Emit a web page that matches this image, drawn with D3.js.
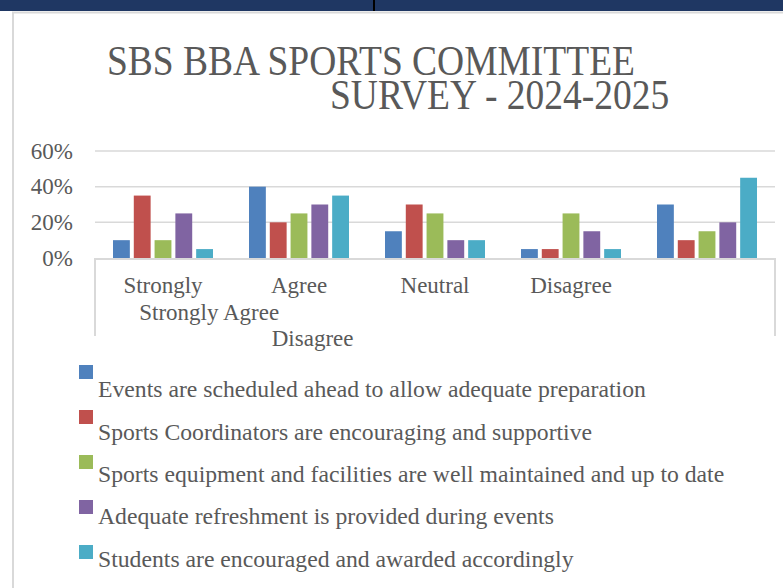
<!DOCTYPE html>
<html>
<head>
<meta charset="utf-8">
<script src="https://cdn.jsdelivr.net/npm/d3@7"></script>
<style>
  body { margin: 0; background: #fff; }
  svg text { font-family: "Liberation Serif", "Times New Roman", Times, "DejaVu Serif", serif; }
</style>
</head>
<body>
<div id="container"></div>
<script>
// DATA ###############################
const categories = ["Strongly Agree", "Agree", "Neutral", "Disagree", "Strongly Disagree"];
const seriesNames = [
  "Events are scheduled ahead to allow adequate preparation",
  "Sports Coordinators are encouraging and supportive",
  "Sports equipment and facilities are well maintained and up to date",
  "Adequate refreshment is provided during events",
  "Students are encouraged and awarded accordingly"
];
const eventsAhead   = [0.10, 0.40, 0.15, 0.05, 0.30];
const coordinators  = [0.35, 0.20, 0.30, 0.05, 0.10];
const equipment     = [0.10, 0.25, 0.25, 0.25, 0.15];
const refreshment   = [0.25, 0.30, 0.10, 0.15, 0.20];
const awarded       = [0.05, 0.35, 0.10, 0.05, 0.45];
const yTicks = [0, 0.2, 0.4, 0.6];
// category labels as they come out wrapped in the original
const tickLabels = ["Strongly", "Agree", "Neutral", "Disagree", ""];
const titleLines = ["SBS BBA SPORTS COMMITTEE", "SURVEY - 2024-2025"];

// CONSTANTS ###############################
const width = 783, height = 588;
const plot = { left: 95, right: 775, top: 151, bottom: 258 };
const colors = ["#4F81BD", "#C0504D", "#9BBB59", "#8064A2", "#4BACC6"];
const textColor = "#595959";
const gridColor = "#d9d9d9";
const serif = "'Liberation Serif', 'Times New Roman', Times, 'DejaVu Serif', serif";

const allSeries = [eventsAhead, coordinators, equipment, refreshment, awarded];
const rows = [];
categories.forEach((c, i) => {
  allSeries.forEach((s, j) => rows.push({ cat: c, series: seriesNames[j], idx: j, value: s[i] }));
});

// SCALES ----------------------------------
const xScale = d3.scaleBand()
  .domain(categories)
  .range([plot.left, plot.right]);

const groupWidth = 100;
const xInner = d3.scaleBand()
  .domain(seriesNames)
  .range([0, groupWidth])
  .paddingInner(0.19);

const yScale = d3.scaleLinear()
  .domain([0, 0.6])
  .range([plot.bottom, plot.top]);

// DRAW ###############################
const svg = d3.select("#container")
  .append("svg")
  .attr("width", width)
  .attr("height", height)
  .attr("font-family", serif)
  .style("display", "block")
  .style("background-color", "white");

// top banner
svg.append("rect").attr("x", 0).attr("y", 0).attr("width", width).attr("height", 11).attr("fill", "#1f3763");
svg.append("rect").attr("x", 373).attr("y", 0).attr("width", 2).attr("height", 11).attr("fill", "#000");

// chart frame
svg.append("path")
  .attr("d", `M13,${height} V12.5 H${width}`)
  .attr("fill", "none").attr("stroke", gridColor).attr("stroke-width", 2);

// title (the original is a little stretched vertically)
svg.append("text")
  .attr("transform", "translate(107,75) scale(1,1.13)")
  .attr("font-size", 37.5).attr("fill", textColor)
  .text(titleLines[0]);
svg.append("text")
  .attr("transform", "translate(330,109) scale(1,1.13)")
  .attr("font-size", 37.5).attr("fill", textColor)
  .text(titleLines[1]);

// gridlines
svg.selectAll("line.grid")
  .data(yTicks.filter(d => d > 0))
  .join("line")
  .attr("class", "grid")
  .attr("x1", plot.left).attr("x2", plot.right)
  .attr("y1", d => yScale(d)).attr("y2", d => yScale(d))
  .attr("stroke", gridColor).attr("stroke-width", 1.5);

// y labels
svg.selectAll("text.ylab")
  .data(yTicks)
  .join("text")
  .attr("class", "ylab")
  .attr("x", 73)
  .attr("y", d => yScale(d))
  .attr("dy", "0.33em")
  .attr("text-anchor", "end")
  .attr("font-size", 23)
  .attr("fill", textColor)
  .text(d => d3.format(".0%")(d));

// category axis box
svg.append("path")
  .attr("d", `M${plot.left},336 V${plot.bottom + 1} H${plot.right} V336`)
  .attr("fill", "none").attr("stroke", gridColor).attr("stroke-width", 2);

// bars
svg.selectAll("rect.bar")
  .data(rows)
  .join("rect")
  .attr("class", "bar")
  .attr("x", d => xScale(d.cat) + (xScale.bandwidth() - groupWidth) / 2 + xInner(d.series))
  .attr("width", xInner.bandwidth())
  .attr("y", d => yScale(d.value))
  .attr("height", d => yScale(0) - yScale(d.value))
  .attr("fill", d => colors[d.idx]);

// x labels
const bw = xScale.bandwidth();
svg.selectAll("text.xlab")
  .data(categories)
  .join("text")
  .attr("class", "xlab")
  .attr("x", d => xScale(d) + bw / 2)
  .attr("y", 293)
  .attr("text-anchor", "middle")
  .attr("font-size", 23)
  .attr("fill", textColor)
  .text((d, i) => tickLabels[i]);

// stray wrapped pieces of the first and last labels
svg.append("text")
  .attr("x", xScale(categories[0]) + bw * 0.84).attr("y", 320)
  .attr("text-anchor", "middle").attr("font-size", 23).attr("fill", textColor)
  .text(categories[0]);
svg.append("text")
  .attr("x", xScale(categories[1]) + bw * 0.6).attr("y", 346)
  .attr("text-anchor", "middle").attr("font-size", 23).attr("fill", textColor)
  .text("Disagree");

// legend
const legendSquares = [365, 410, 455, 500, 545];
const legendBaselines = [397, 440, 482, 524, 567];
const legend = svg.selectAll("g.legend")
  .data(seriesNames)
  .join("g")
  .attr("class", "legend");
legend.append("rect")
  .attr("x", 79).attr("y", (d, i) => legendSquares[i])
  .attr("width", 14).attr("height", 14)
  .attr("fill", (d, i) => colors[i]);
legend.append("text")
  .attr("x", 98).attr("y", (d, i) => legendBaselines[i])
  .attr("font-size", 23.7).attr("fill", textColor)
  .text(d => d);
</script>
</body>
</html>
